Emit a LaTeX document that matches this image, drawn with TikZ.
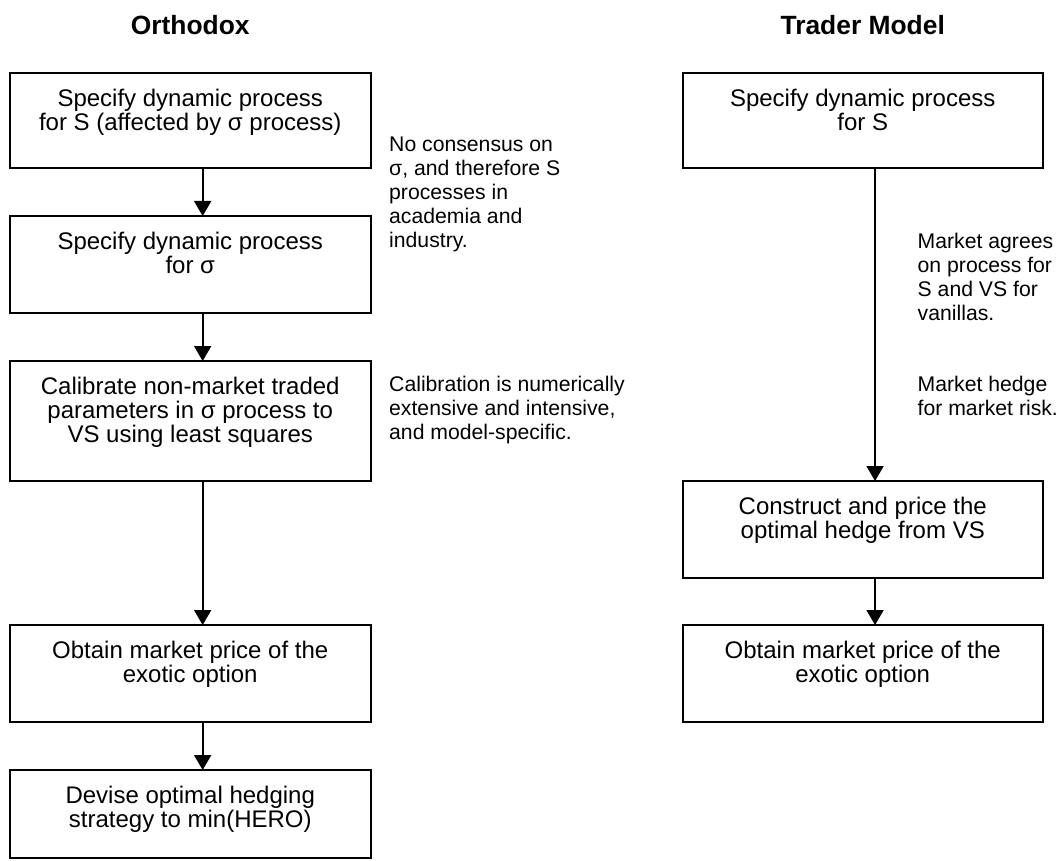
\documentclass[tikz,border=0pt]{standalone}
\usepackage{fontspec}
\setmainfont{Liberation Sans}
\usetikzlibrary{arrows.meta}
% fixed first-line height so that every text block starts at the same baseline
\newcommand{\firstline}{\rule{0pt}{18pt}}
\begin{document}
\begin{tikzpicture}[x=1pt,y=-1pt,
  box/.style={draw, line width=2pt, outer sep=0pt, inner sep=0pt,
    minimum width=360.5pt, anchor=north west},
  boxtext/.style={anchor=north, align=center, inner sep=0pt,
    font=\fontsize{24}{24}\selectfont},
  note/.style={anchor=north west, align=left, inner sep=0pt,
    font=\fontsize{21.2}{24}\selectfont},
  head/.style={anchor=base, inner sep=0pt,
    font=\fontsize{26.4}{30}\selectfont\bfseries},
  flow/.style={line width=2pt, -{Triangle[width=17pt,length=15pt]}}]
\useasboundingbox (0,0) rectangle (1058,861);

% column headings
\node[head] (hl) at (190.25,35) {Orthodox};
\node[head] (hr) at (862.75,35) {Trader Model};

% left column
\node[box, minimum height=95pt] (l1) at (10,73) {};
\node[boxtext] (l1t) at ([yshift=-15.5pt]l1.north) {\firstline Specify dynamic process\\for S (affected by σ process)};
\node[box, minimum height=97pt] (l2) at (10,216) {};
\node[boxtext] (l2t) at ([yshift=-15.5pt]l2.north) {\firstline Specify dynamic process\\for σ};
\node[box, minimum height=120pt] (l3) at (10,361) {};
\node[boxtext] (l3t) at ([yshift=-15.5pt]l3.north) {\firstline Calibrate non-market traded\\parameters in σ process to\\VS using least squares};
\node[box, minimum height=97pt] (l4) at (10,625) {};
\node[boxtext] (l4t) at ([yshift=-15.5pt]l4.north) {\firstline Obtain market price of the\\exotic option};
\node[box, minimum height=88pt] (l5) at (10,770) {};
\node[boxtext] (l5t) at ([yshift=-15.5pt]l5.north) {\firstline Devise optimal hedging\\strategy to min(HERO)};

% right column
\node[box, minimum height=95pt] (r1) at (682.5,73) {};
\node[boxtext] (r1t) at ([yshift=-15.5pt]r1.north) {\firstline Specify dynamic process\\for S};
\node[box, minimum height=97pt] (r2) at (682.5,481) {};
\node[boxtext] (r2t) at ([yshift=-15.5pt]r2.north) {\firstline Construct and price the\\optimal hedge from VS};
\node[box, minimum height=97pt] (r3) at (682.5,625) {};
\node[boxtext] (r3t) at ([yshift=-15.5pt]r3.north) {\firstline Obtain market price of the\\exotic option};

% side notes
\node[note] (n1) at (389,133) {\firstline No consensus on\\σ, and therefore S\\processes in\\academia and\\industry.};
\node[note] (n2) at (389,373) {\firstline Calibration is numerically\\extensive and intensive,\\and model-specific.};
\node[note] (n3) at (917.5,230) {\firstline Market agrees\\on process for\\S and VS for\\vanillas.};
\node[note] (n4) at (917.5,373) {\firstline Market hedge\\for market risk.};

% flow arrows
\draw[flow] ([xshift=12.4pt]l1.south) -- ([xshift=12.4pt]l2.north);
\draw[flow] ([xshift=12.4pt]l2.south) -- ([xshift=12.4pt]l3.north);
\draw[flow] ([xshift=12.4pt]l3.south) -- ([xshift=12.4pt]l4.north);
\draw[flow] ([xshift=12.4pt]l4.south) -- ([xshift=12.4pt]l5.north);
\draw[flow] ([xshift=12.3pt]r1.south) -- ([xshift=12.3pt]r2.north);
\draw[flow] ([xshift=12.3pt]r2.south) -- ([xshift=12.3pt]r3.north);
\end{tikzpicture}
\end{document}
